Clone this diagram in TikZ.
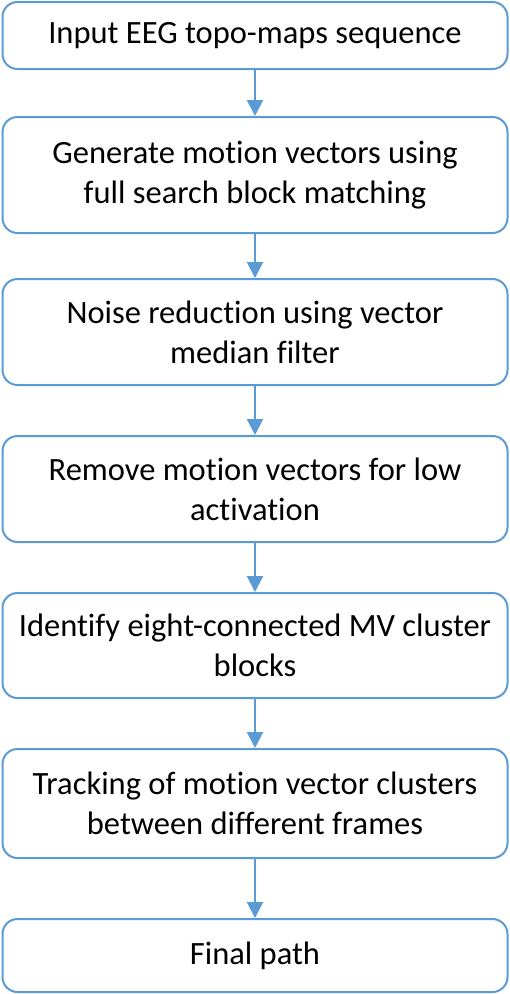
\documentclass[tikz,border=0pt]{standalone}
\usepackage{fontspec}
\setmainfont{Carlito}[Ligatures=NoCommon]
\usetikzlibrary{arrows.meta}
\definecolor{flowblue}{RGB}{91,155,213}
\begin{document}
\begin{tikzpicture}[x=1pt, y=1pt,
  stepbox/.style={draw=flowblue, line width=2pt, rounded corners=15pt, fill=white,
    minimum width=505pt, align=center, font=\fontsize{32.5}{40}\selectfont},
  flow/.style={draw=flowblue, line width=2pt, -{Triangle[width=16pt,length=16pt]}}]
  \useasboundingbox (0,0) rectangle (510,-994);
  \node[stepbox, minimum height=67pt]  (input)  at (255,-35.5) {Input EEG topo-maps sequence};
  \node[stepbox, minimum height=116pt] (gen)    at (255,-175)  {Generate motion vectors using\\full search block matching};
  \node[stepbox, minimum height=106pt] (noise)  at (255,-332)  {Noise reduction using vector\\median filter};
  \node[stepbox, minimum height=106pt] (remove) at (255,-489)  {Remove motion vectors for low\\activation};
  \node[stepbox, minimum height=105pt] (ident)  at (255,-645.5) {Identify eight-connected MV cluster\\blocks};
  \node[stepbox, minimum height=109pt] (track)  at (255,-803.5) {Tracking of motion vector clusters\\between different frames};
  \node[stepbox, minimum height=73pt]  (final)  at (255,-955.5) {Final path};
  \foreach \a/\b in {input/gen, gen/noise, noise/remove, remove/ident, ident/track, track/final}
    \draw[flow] (\a) -- (\b);
\end{tikzpicture}
\end{document}
